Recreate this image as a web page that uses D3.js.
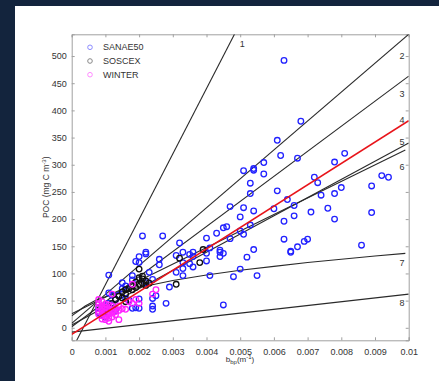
<!DOCTYPE html>
<html>
<head>
<meta charset="utf-8">
<script src="https://cdn.jsdelivr.net/npm/d3@7"></script>
<style>
  html, body { margin: 0; padding: 0; background: #13243d; }
  svg { display: block; }
  text { font-family: "Liberation Sans", Arial, sans-serif; fill: #333; }
</style>
</head>
<body>
<div id="chart"></div>
<script>
// data: x = b_bp (m^-1), y = POC (mg C m^-3)
var sanae50 = [
  [0.0063,492],[0.0068,380],[0.0061,345],[0.0062,317],[0.0067,312],[0.0057,304],[0.0054,293],
  [0.0054,290],[0.0051,289],[0.0057,283],[0.0053,266],[0.0053,247],[0.0061,252],[0.0081,321],
  [0.0078,305],[0.0072,277],[0.0073,267],[0.0074,244],[0.0078,247],[0.0080,258],[0.0089,261],
  [0.0092,280],[0.0094,277],[0.0089,212],[0.0086,152],[0.0078,200],[0.0076,220],[0.0071,213],
  [0.0070,163],[0.0069,159],[0.0067,149],[0.0065,141],[0.0065,139],[0.0063,163],[0.0063,196],
  [0.0066,206],[0.0066,225],[0.0064,236],[0.0060,219],[0.0054,215],[0.0051,221],[0.0050,204],
  [0.0053,189],[0.0050,178],[0.0051,172],[0.0054,144],[0.0052,130],[0.0050,108],[0.0055,96],
  [0.0048,94],[0.0045,42],[0.0041,96],[0.0047,223],[0.0047,164],[0.0046,186],[0.0045,184],
  [0.0043,174],[0.0040,165],[0.0041,147],[0.0040,137],[0.0040,123],[0.0044,143],[0.0044,139],
  [0.0044,131],[0.0045,137],[0.0036,139],[0.0035,135],[0.0036,131],[0.0033,139],[0.0032,156],
  [0.0031,133],[0.0033,120],[0.0036,112],[0.0035,118],[0.0033,109],[0.0031,102],[0.0033,96],
  [0.0029,75],[0.0027,169],[0.0026,126],[0.0026,116],[0.0025,59],[0.0028,45],[0.0024,54],
  [0.0024,40],[0.0024,34],[0.0023,102],[0.0022,139],[0.0022,136],[0.0021,169],[0.0020,131],
  [0.0020,120],[0.0019,122],[0.0018,96],[0.0018,88],[0.0020,53],[0.0020,36],[0.0018,36],
  [0.0019,37],[0.0015,83],[0.0015,72],[0.0016,77],[0.0016,54],[0.0014,60],[0.0013,52],
  [0.0011,97],[0.0011,64],[0.0012,60],[0.0012,40],[0.0010,32],[0.0008,36],[0.0008,28],
  [0.0009,23],[0.0010,20],[0.0011,26],[0.0013,32],[0.0017,51],[0.0024,89],[0.0022,83],
  [0.0008,30],[0.0009,35],[0.0010,40],[0.0011,45],[0.0012,35]
];
var soscex = [
  [0.0012,45],[0.0013,52],[0.0014,58],[0.0015,55],[0.0015,66],[0.0016,62],
  [0.0016,70],[0.0017,72],[0.0018,70],[0.0018,78],[0.0019,74],[0.0019,84],
  [0.0020,80],[0.0020,92],[0.0020,108],[0.0021,82],[0.0021,90],[0.0021,95],
  [0.0022,78],[0.0022,86],[0.0023,82],[0.0031,80],[0.0032,128],[0.0038,120],
  [0.0039,144],[0.0016,48],[0.0010,35]
];
var winter = [
  [0.0008,52],[0.0008,45],[0.0008,38],[0.0008,30],[0.0008,25],[0.0009,48],[0.0009,40],
  [0.0009,35],[0.0009,30],[0.0009,22],[0.0009,16],[0.0010,44],[0.0010,38],[0.0010,32],
  [0.0010,27],[0.0010,22],[0.0010,15],[0.0011,42],[0.0011,35],[0.0011,30],[0.0011,25],
  [0.0011,18],[0.0011,12],[0.0012,62],[0.0012,40],[0.0012,33],[0.0012,28],[0.0012,20],
  [0.0013,36],[0.0013,30],[0.0013,24],[0.0014,40],[0.0014,32],[0.0014,15],[0.0015,35],
  [0.0016,34],[0.0017,48],[0.0018,80],[0.0018,45],[0.0019,52],[0.0020,45],[0.0025,70],
  [0.0024,62]
];

// published relationships, points
var line1 = [[0,-41],[0.00483,540]];
var line2 = [[0,8],[0.01,540]];
var line3 = [[0,2],[0.01,463]];
var line4 = [[0,-12],[0.01,381]];
var line5 = [[0,5],[0.01,340]];
var line6 = [[0,26],[0.0099,327]];
var line7 = [[0,22],[0.0002,31],[0.0004,40],[0.0007,50],[0.001,57],[0.0015,67],[0.002,74],
  [0.003,87],[0.004,97],[0.005,106],[0.006,113],[0.007,120],[0.008,126],[0.009,132],[0.0099,137]];
var line8 = [[0,-8],[0.01,62]];

var lineLabels = ["1","2","3","4","5","6","7","8"];
var labelPos = [[0.00506,522],[0.0098,500],[0.0098,430],[0.0098,383],[0.0098,342],
  [0.0098,297],[0.0098,120],[0.0098,45]];

var legendNames = ["SANAE50","SOSCEX","WINTER"];
var xTicks = [0,0.001,0.002,0.003,0.004,0.005,0.006,0.007,0.008,0.009,0.01];
var yTicks = [0,50,100,150,200,250,300,350,400,450,500];

var width = 439, height = 381;
var svg = d3.select('#chart').append('svg')
  .attr('width', width).attr('height', height);

svg.append('rect').attr('x', 0).attr('y', 0).attr('width', width).attr('height', height)
  .attr('fill', '#13243d');
svg.append('rect').attr('x', 15).attr('y', 6).attr('width', width - 15).attr('height', height - 6)
  .attr('fill', '#fff');

var pLeft = 71.7, pRight = 408.7, pTop = 34.3, pBottom = 340.3;
var x = d3.scaleLinear().domain([0, 0.01]).range([pLeft, pRight]);
var y = d3.scaleLinear().domain([-23, 540]).range([pBottom, pTop]);

svg.append('clipPath').attr('id', 'clip')
  .append('rect').attr('x', pLeft).attr('y', pTop)
  .attr('width', pRight - pLeft).attr('height', pBottom - pTop);

// axes, MATLAB style ticks pointing inwards
var fmtX = function (d) { return d === 0 ? '0' : d3.format('.3~f')(d); };
svg.append('g').attr('transform', 'translate(0,' + pBottom + ')')
  .call(d3.axisBottom(x).tickValues(xTicks).tickSize(-3).tickPadding(8).tickFormat(fmtX));
svg.append('g').attr('transform', 'translate(0,' + pTop + ')')
  .call(d3.axisTop(x).tickValues(xTicks).tickSize(-3).tickFormat(''));
svg.append('g').attr('transform', 'translate(' + pLeft + ',0)')
  .call(d3.axisLeft(y).tickValues(yTicks).tickSize(-3).tickPadding(5));
svg.append('g').attr('transform', 'translate(' + pRight + ',0)')
  .call(d3.axisRight(y).tickValues(yTicks).tickSize(-3).tickFormat(''));

svg.selectAll('.domain').attr('stroke', '#a0a0a0');
svg.selectAll('.tick line').attr('stroke', '#a0a0a0');
svg.selectAll('.tick text').attr('font-size', 9).attr('fill', '#333');

var plot = svg.append('g').attr('clip-path', 'url(#clip)');
var lineGen = d3.line().x(d => x(d[0])).y(d => y(d[1]));

var blackLines = [line1, line2, line3, line5, line6, line7, line8];
plot.selectAll('path.fit').data(blackLines).enter().append('path')
  .attr('class', 'fit')
  .attr('d', lineGen)
  .attr('fill', 'none').attr('stroke', '#2a2a2a').attr('stroke-width', 1.1);

function drawDots(data, color) {
  plot.append('g').selectAll('circle').data(data).enter().append('circle')
    .attr('cx', d => x(d[0])).attr('cy', d => y(d[1])).attr('r', 2.8)
    .attr('fill', 'none').attr('stroke', color).attr('stroke-width', 1.3);
}
drawDots(sanae50, '#2222ff');
drawDots(soscex, '#111');
drawDots(winter, '#ff22ff');

plot.append('path').datum(line4).attr('d', lineGen)
  .attr('fill', 'none').attr('stroke', '#e8141a').attr('stroke-width', 1.6);

svg.append('g').selectAll('text').data(lineLabels).enter().append('text')
  .attr('x', (d, i) => x(labelPos[i][0])).attr('y', (d, i) => y(labelPos[i][1]))
  .attr('text-anchor', 'middle').attr('dy', '0.35em')
  .attr('font-size', 9).text(d => d);

// legend
var legendColors = ['#8c8cff', '#888', '#ff8cff'];
var lg = svg.append('g');
legendNames.forEach(function (name, i) {
  lg.append('circle').attr('cx', 90).attr('cy', 47.3 + i * 13.7).attr('r', 2.3)
    .attr('fill', 'none').attr('stroke', legendColors[i]).attr('stroke-width', 1);
  lg.append('text').attr('x', 103).attr('y', 47.3 + i * 13.7).attr('dy', '0.35em')
    .attr('font-size', 9).text(name);
});

// axis titles
var xt = svg.append('text').attr('x', 240).attr('y', 362).attr('text-anchor', 'middle')
  .attr('font-size', 8);
xt.append('tspan').text('b');
xt.append('tspan').attr('font-size', 6).attr('dy', 2).text('bp');
xt.append('tspan').attr('dy', -2).text('(m');
xt.append('tspan').attr('font-size', 6).attr('dy', -3).text('-1');
xt.append('tspan').attr('dy', 3).text(')');

var yt = svg.append('text').attr('transform', 'translate(49,' + ((pTop + pBottom) / 2) + ') rotate(-90)')
  .attr('text-anchor', 'middle').attr('font-size', 8.5);
yt.append('tspan').text('POC (mg C m');
yt.append('tspan').attr('font-size', 6).attr('dy', -3).text('-3');
yt.append('tspan').attr('dy', 3).text(')');
</script>
</body>
</html>
